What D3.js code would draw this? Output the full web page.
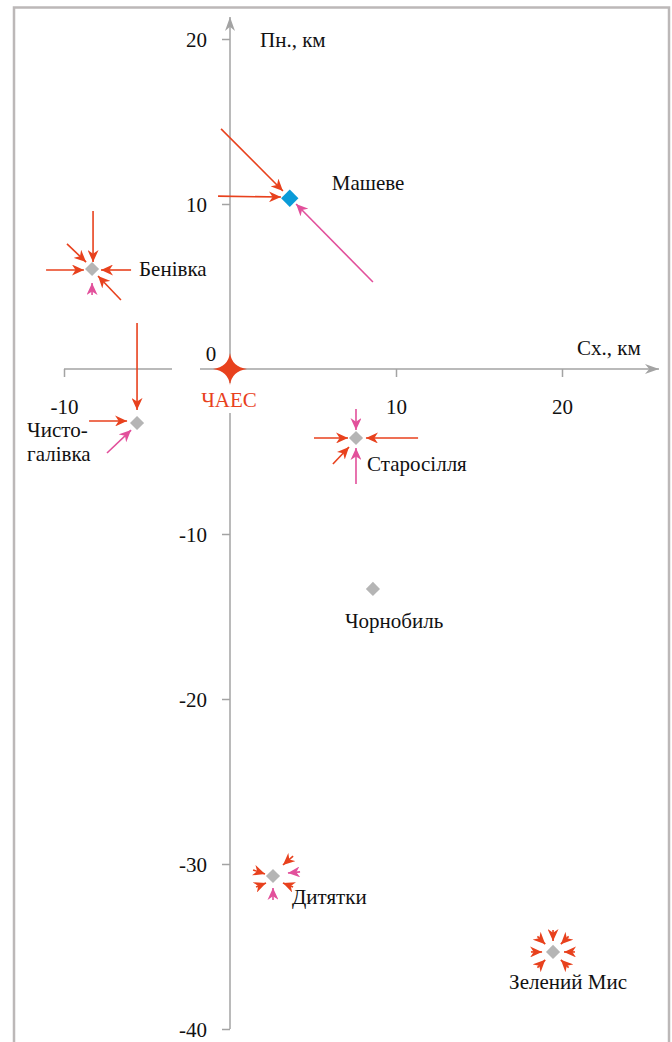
<!DOCTYPE html>
<html><head><meta charset="utf-8">
<script src="https://cdn.jsdelivr.net/npm/d3@7"></script>
<style>
html,body{margin:0;padding:0;background:#fff;}
svg{display:block;}
</style></head>
<body>
<script>
// ---- data (km east / km north of ChNPP) ----
const xTicks = [-10, 10, 20];
const yTicks = [-40, -30, -20, -10, 10, 20];
const xAxisLabel = "Сх., км";
const yAxisLabel = "Пн., км";
const originLabel = "0";
const plantName = "ЧАЕС";
const plantXY = [0, 0];

const siteNames = ["Машеве", "Бенівка", "Чисто-\nгалівка", "Старосілля", "Чорнобиль", "Дитятки", "Зелений Мис"];
const siteX = [3.6, -8.31, -5.6, 7.59, 8.61, 2.59, 19.46];
const siteY = [10.35, 6.06, -3.27, -4.18, -13.33, -30.73, -35.33];
const siteKind = ["main", "other", "other", "other", "other", "other", "other"];

// arrows: [tailX, tailY, headX, headY, kind]
const arrows = [
  [-0.54, 14.55, 3.19, 10.79, "red"],
  [-0.72, 10.48, 3.07, 10.42, "red"],
  [8.61, 5.27, 3.98, 10.0, "pink"],
  [-8.25, 9.58, -8.25, 6.48, "red"],
  [-9.82, 7.58, -8.67, 6.48, "red"],
  [-11.08, 6.0, -8.80, 6.0, "red"],
  [-5.96, 6.0, -7.77, 6.0, "red"],
  [-6.57, 4.18, -7.95, 5.64, "red"],
  [-8.31, 4.48, -8.31, 5.21, "pink"],
  [-5.6, 2.79, -5.6, -2.48, "red"],
  [-8.49, -3.15, -6.2, -3.15, "red"],
  [-7.41, -5.09, -5.96, -3.7, "pink"],
  [7.59, -2.42, 7.59, -3.7, "pink"],
  [5.06, -4.18, 7.11, -4.18, "red"],
  [11.33, -4.18, 8.19, -4.18, "red"],
  [6.2, -5.76, 7.17, -4.73, "red"],
  [7.59, -6.97, 7.59, -4.79, "pink"],
  [3.80, -29.52, 3.19, -30.06, "red"],
  [4.22, -30.48, 3.49, -30.55, "pink"],
  [1.39, -30.36, 2.11, -30.61, "red"],
  [1.57, -31.39, 2.17, -31.15, "red"],
  [2.59, -32.18, 2.59, -31.45, "pink"],
  [3.80, -31.39, 3.19, -31.15, "red"],
  [18.52, -34.39, 18.99, -34.86, "red"],
  [19.46, -34.0, 19.46, -34.67, "red"],
  [20.40, -34.39, 19.93, -34.86, "red"],
  [18.13, -35.33, 18.80, -35.33, "red"],
  [20.78, -35.33, 20.12, -35.33, "red"],
  [18.52, -36.28, 18.99, -35.81, "red"],
  [20.40, -36.28, 19.93, -35.81, "red"]
];

// ---- style / layout ----
const W = 672, H = 1042;
const FONT = "'Liberation Serif', 'Times New Roman', 'DejaVu Serif', serif";
const colors = {red: "#e8411d", pink: "#e2509b", main: "#0a9bd8", other: "#b5b5b5", axis: "#a3a3a3"};
const FS = 21;
// label offsets (px) relative to point: [dx, dy, anchor]
const labelLayout = [
  [42, -8, "start"],
  [47, 7, "start"],
  [-110, 14, "start"],
  [11, 33, "start"],
  [-28, 39, "start"],
  [19, 28, "start"],
  [15, 37, "middle"]
];

const svg = d3.select("body").append("svg").attr("width", W).attr("height", H)
  .attr("font-family", FONT);

const x = d3.scaleLinear().domain([-10, 20]).range([64, 562]);
const y = d3.scaleLinear().domain([-40, 20]).range([1029, 39]);

// frame
svg.append("rect").attr("x", 14).attr("y", 7.5).attr("width", 655).attr("height", 1060)
  .attr("fill", "none").attr("stroke", "#bcb8b8").attr("stroke-width", 2.5);

const defs = svg.append("defs");
function arrowMarker(id, col, len, wid) {
  defs.append("marker").attr("id", id).attr("viewBox", `0 -${wid/2} ${len} ${wid}`)
    .attr("refX", len).attr("refY", 0).attr("markerUnits", "userSpaceOnUse")
    .attr("markerWidth", len).attr("markerHeight", wid).attr("orient", "auto")
    .append("path").attr("d", `M0,-${wid/2}L${len},0L0,${wid/2}L${len*0.3},0Z`).attr("fill", col);
}
arrowMarker("ar-red", colors.red, 12, 11);
arrowMarker("ar-pink", colors.pink, 12, 11);
arrowMarker("ar-axis", colors.axis, 14, 10);

// axes
const axX = y(0), axY = x(0);
svg.append("line").attr("x1", x(-10)).attr("x2", 659).attr("y1", axX).attr("y2", axX)
  .attr("stroke", colors.axis).attr("stroke-width", 1.5).attr("marker-end", "url(#ar-axis)");
svg.append("line").attr("x1", axY).attr("x2", axY).attr("y1", y(-40)).attr("y2", 17)
  .attr("stroke", colors.axis).attr("stroke-width", 1.5).attr("marker-end", "url(#ar-axis)");

const fmt = d => String(d);
const gx = svg.append("g").attr("transform", `translate(0,${axX})`)
  .call(d3.axisBottom(x).tickValues(xTicks).tickSize(8).tickPadding(22).tickFormat(fmt));
const gy = svg.append("g").attr("transform", `translate(${axY},0)`)
  .call(d3.axisLeft(y).tickValues(yTicks).tickSize(8).tickPadding(15).tickFormat(fmt));
[gx, gy].forEach(g => {
  g.attr("font-family", FONT).attr("font-size", FS);
  g.select(".domain").remove();
  g.selectAll(".tick line").attr("stroke", colors.axis).attr("stroke-width", 1.5);
  g.selectAll(".tick text").attr("fill", "#111");
});
gy.selectAll(".tick text").attr("dy", "0.36em");

// gap in x-axis near origin label
svg.append("rect").attr("x", x(0) - 58).attr("y", axX - 3).attr("width", 28).attr("height", 6).attr("fill", "#fff");

svg.append("text").attr("x", x(0) - 19).attr("y", axX - 8).attr("text-anchor", "middle")
  .attr("font-size", FS).attr("fill", "#111").text(originLabel);
svg.append("text").attr("x", 577).attr("y", 355).attr("font-size", FS).attr("fill", "#111").text(xAxisLabel);
svg.append("text").attr("x", 260).attr("y", 47).attr("font-size", FS).attr("fill", "#111").text(yAxisLabel);

// plant label with white background (interrupts y axis)
svg.append("rect").attr("x", x(plantXY[0]) - 30).attr("y", y(plantXY[1]) + 14).attr("width", 60).attr("height", 30).attr("fill", "#fff");
svg.append("text").attr("x", x(plantXY[0]) - 1).attr("y", y(plantXY[1]) + 38).attr("text-anchor", "middle")
  .attr("font-size", FS).attr("fill", colors.red).text(plantName);
svg.append("path")
  .attr("transform", `translate(${x(plantXY[0])},${y(plantXY[1])})`)
  .attr("d", "M0,-16 Q2,-2 17,0 Q2,2 0,16 Q-2,2 -17,0 Q-2,-2 0,-16Z")
  .attr("fill", colors.red);

// arrows
svg.append("g").selectAll("line").data(arrows).join("line")
  .attr("x1", d => x(d[0])).attr("y1", d => y(d[1]))
  .attr("x2", d => x(d[2])).attr("y2", d => y(d[3]))
  .attr("stroke", d => colors[d[4]]).attr("stroke-width", 1.6)
  .attr("marker-end", d => `url(#ar-${d[4]})`);

// settlements
const sites = siteNames.map((n, i) => ({name: n, x: siteX[i], y: siteY[i], kind: siteKind[i], lay: labelLayout[i]}));
svg.append("g").selectAll("path").data(sites).join("path")
  .attr("transform", d => `translate(${x(d.x)},${y(d.y)}) rotate(45)`)
  .attr("d", d => d3.symbol(d3.symbolSquare, d.kind === "main" ? 150 : 100)())
  .attr("fill", d => colors[d.kind]);

const lbl = svg.append("g").selectAll("text").data(sites).join("text")
  .attr("x", d => x(d.x) + d.lay[0]).attr("y", d => y(d.y) + d.lay[1])
  .attr("text-anchor", d => d.lay[2]).attr("font-size", FS).attr("fill", "#111");
lbl.each(function(d) {
  const parts = d.name.split("\n");
  d3.select(this).selectAll("tspan").data(parts).join("tspan")
    .attr("x", x(d.x) + d.lay[0]).attr("dy", (p, i) => i ? "1.15em" : 0).text(p => p);
});
</script>
</body></html>
